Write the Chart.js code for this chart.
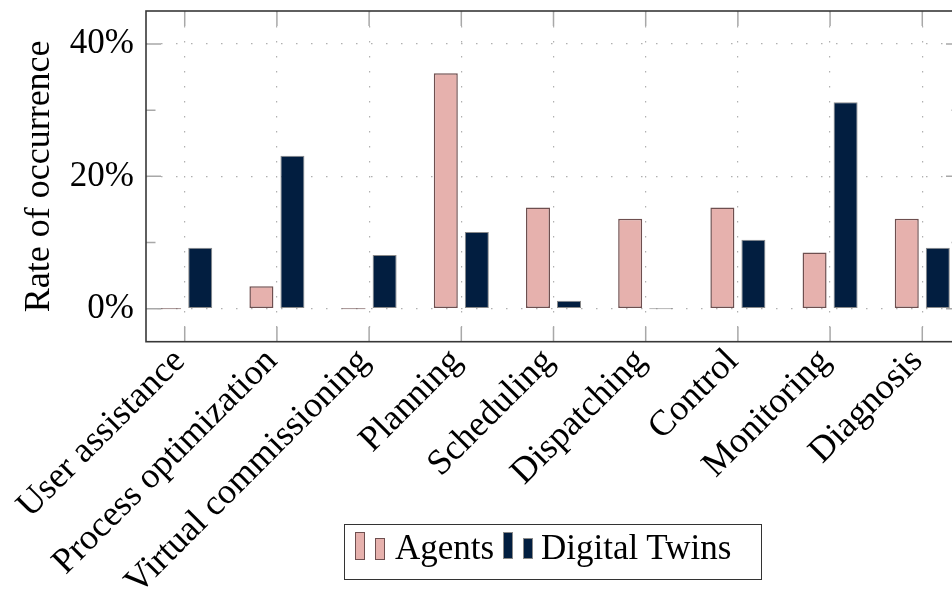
<!DOCTYPE html>
<html lang="en">
<head>
    <meta charset="UTF-8">
    <title>Rate of occurrence</title>
    <script src="https://cdn.jsdelivr.net/npm/chart.js"></script>
    <style>
        html, body { margin: 0; padding: 0; background: #fff; overflow: hidden; }
        #wrap { position: relative; width: 975px; height: 594px; }
        .lg { position: absolute; box-sizing: border-box; }
        .txt { position: absolute; font-family: 'Liberation Serif', serif; font-size: 35px; line-height: 35px; color: #000; white-space: nowrap; }
    </style>
</head>
<body>
    <div id="wrap">
        <canvas id="chart" width="975" height="594"></canvas>

        <!-- Legend -->
        <div class="lg" style="left:344px; top:524px; width:418px; height:56px; border:1.5px solid #333;"></div>
        <div class="lg" style="left:355px; top:532px; width:10px; height:28px; background:#e6b1ad; border:1.5px solid #6e4f4f;"></div>
        <div class="lg" style="left:375px; top:538px; width:10px; height:22px; background:#e6b1ad; border:1.5px solid #6e4f4f;"></div>
        <div class="txt" style="left:395px; top:530px;">Agents</div>
        <div class="lg" style="left:503px; top:532px; width:10px; height:27px; background:#021e40; border:1px solid #8a8a8a;"></div>
        <div class="lg" style="left:523px; top:538px; width:10px; height:21px; background:#021e40; border:1px solid #8a8a8a;"></div>
        <div class="txt" style="left:541px; top:530px;">Digital Twins</div>
    </div>

    <script>
        const categories = ['User assistance', 'Process optimization', 'Virtual commissioning', 'Planning',
            'Scheduling', 'Dispatching', 'Control', 'Monitoring', 'Diagnosis'];
        const agents = [0, 3.4, 0, 35.6, 15.3, 13.6, 15.3, 8.5, 13.6];
        const digitalTwins = [9.2, 23.1, 8.1, 11.6, 1.2, 0, 10.4, 31.2, 9.2];
        const yTicks = [0, 20, 40];
        const yMinorTicks = [10, 30];

        const FONT = 'Liberation Serif';

        // pgfplots style frame with inward ticks on all four sides
        const frameTicks = {
            id: 'frameTicks',
            afterDatasetsDraw(chart) {
                const { ctx, chartArea: a, scales: { x, y } } = chart;
                ctx.save();
                ctx.strokeStyle = '#a8a8a8';
                ctx.lineWidth = 1.5;
                ctx.beginPath();
                categories.forEach((c, i) => {
                    const px = x.getPixelForValue(i);
                    ctx.moveTo(px, a.top); ctx.lineTo(px, a.top + 15);
                    ctx.moveTo(px, a.bottom); ctx.lineTo(px, a.bottom - 15);
                });
                yTicks.forEach(v => {
                    const py = y.getPixelForValue(v);
                    ctx.moveTo(a.left, py); ctx.lineTo(a.left + 15, py);
                    ctx.moveTo(a.right, py); ctx.lineTo(a.right - 15, py);
                });
                yMinorTicks.forEach(v => {
                    const py = y.getPixelForValue(v);
                    ctx.moveTo(a.left, py); ctx.lineTo(a.left + 9.5, py);
                    ctx.moveTo(a.right, py); ctx.lineTo(a.right - 9.5, py);
                });
                ctx.stroke();

                ctx.strokeStyle = '#383838';
                ctx.lineWidth = 1.6;
                ctx.strokeRect(a.left, a.top, a.right - a.left, a.bottom - a.top);

                // rotated category labels, east anchor just under each tick
                ctx.fillStyle = '#000';
                ctx.font = '36px "' + FONT + '"';
                ctx.textAlign = 'right';
                ctx.textBaseline = 'middle';
                categories.forEach((c, i) => {
                    const px = x.getPixelForValue(i);
                    ctx.save();
                    ctx.translate(px - 5, a.bottom + 14);
                    ctx.rotate(-Math.PI / 4);
                    ctx.fillText(c, 0, 0);
                    ctx.restore();
                });
                ctx.restore();
            }
        };

        const ctx = document.getElementById('chart').getContext('2d');
        new Chart(ctx, {
            type: 'bar',
            data: {
                datasets: [{
                    label: 'Agents',
                    data: categories.map((c, i) => ({ x: i, y: agents[i] })),
                    backgroundColor: '#e6b1ad',
                    borderColor: '#6e4f4f',
                    borderWidth: 1.5,
                    borderSkipped: false,
                    minBarLength: 1
                }, {
                    label: 'Digital Twins',
                    data: categories.map((c, i) => ({ x: i, y: digitalTwins[i] })),
                    backgroundColor: '#021e40',
                    borderColor: '#8a8a8a',
                    borderWidth: 1,
                    borderSkipped: false,
                    minBarLength: 1
                }]
            },
            options: {
                responsive: false,
                animation: false,
                categoryPercentage: 0.673,
                barPercentage: 0.774,
                layout: { padding: { top: 11, right: 14, left: 0, bottom: 0 } },
                plugins: {
                    legend: { display: false },
                    tooltip: { enabled: false }
                },
                scales: {
                    x: {
                        type: 'linear',
                        min: -0.42,
                        max: 8.42,
                        offset: false,
                        afterBuildTicks: s => { s.ticks = categories.map((c, i) => ({ value: i })); },
                        afterFit: s => { s.height = 252.3; s.paddingLeft = 0; s.paddingRight = 0; },
                        grid: { color: '#b0b0b0', lineWidth: 1.2, drawTicks: false, offset: false },
                        border: { display: false, dash: [1.5, 13.5] },
                        ticks: { display: false }
                    },
                    y: {
                        min: -5,
                        max: 45,
                        afterBuildTicks: s => { s.ticks = yTicks.map(v => ({ value: v })); },
                        afterFit: s => { s.width = 146; s.paddingTop = 0; s.paddingBottom = 0; },
                        grid: { color: '#b0b0b0', lineWidth: 1.2, drawTicks: false },
                        border: { display: false, dash: [1.5, 13.5] },
                        ticks: {
                            padding: 12,
                            color: '#000',
                            font: { family: FONT, size: 35 },
                            callback: v => v + '%'
                        },
                        title: {
                            display: true,
                            text: 'Rate of occurrence',
                            color: '#000',
                            font: { family: FONT, size: 36 },
                            padding: { top: 18, bottom: 0 }
                        }
                    }
                }
            },
            plugins: [frameTicks]
        });
    </script>
</body>
</html>
